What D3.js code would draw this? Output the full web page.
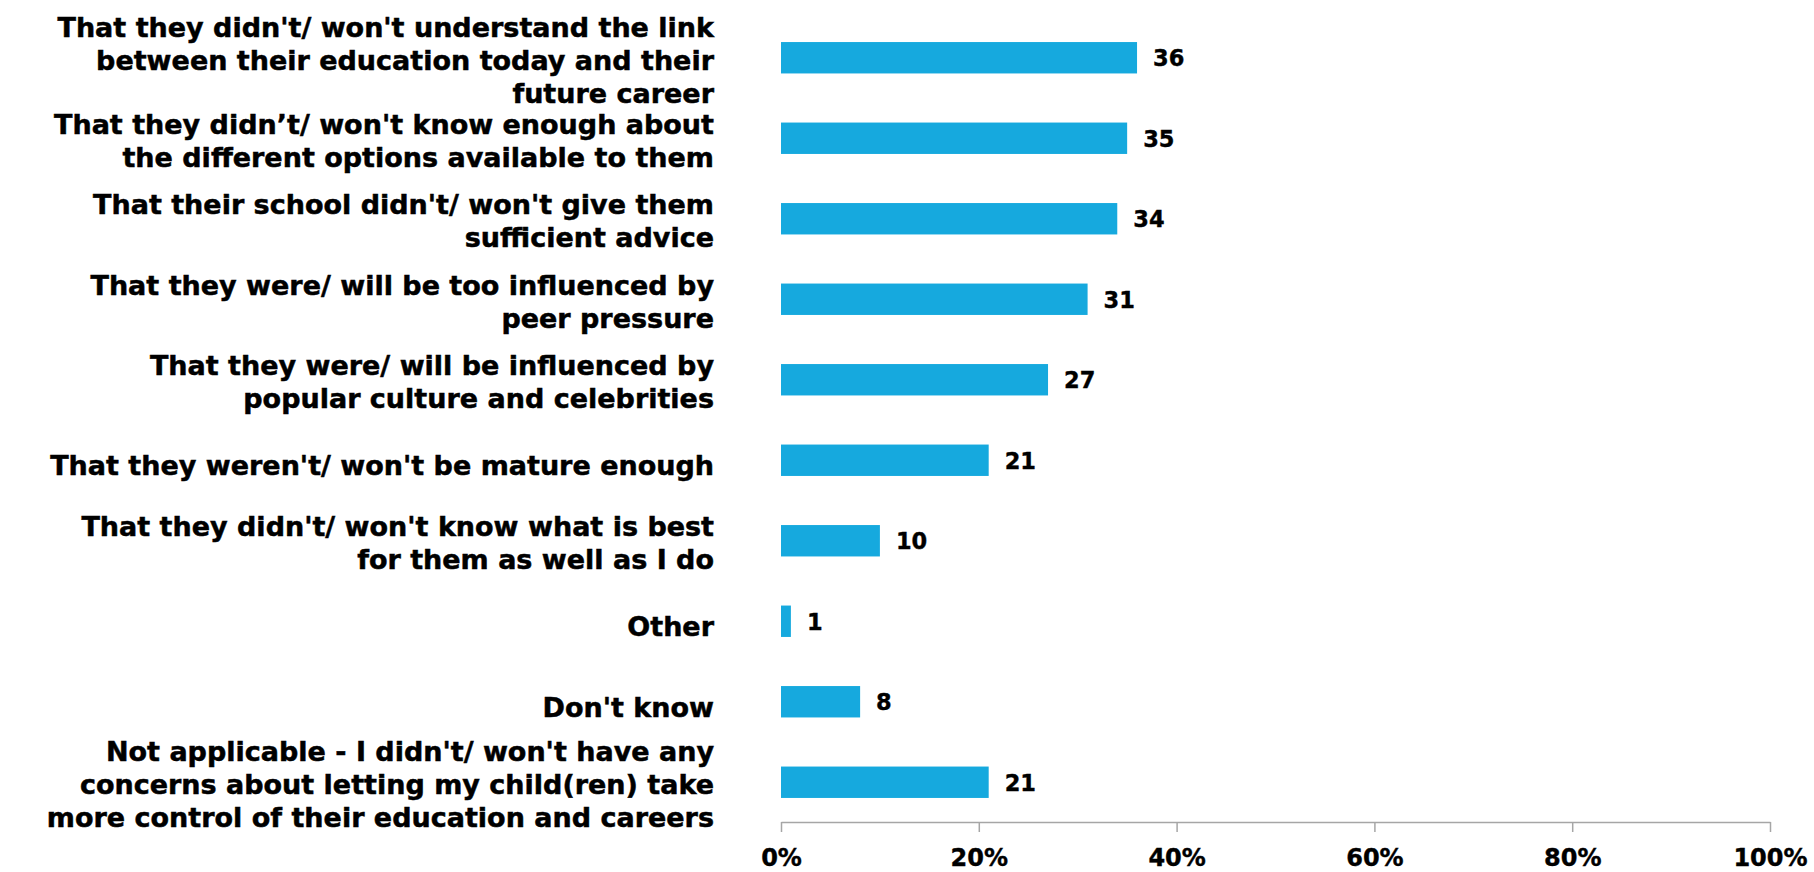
<!DOCTYPE html>
<html>
<head>
<meta charset="utf-8">
<script src="https://cdn.jsdelivr.net/npm/d3@7"></script>
<style>
  html, body { margin: 0; padding: 0; background: #ffffff; }
  svg { display: block; }
</style>
</head>
<body>
<svg id="chart" width="1814" height="872"></svg>
<script>
// ---- data ----
const categories = [
  ["That they didn't/ won't understand the link", "between their education today and their", "future career"],
  ["That they didn\u2019t/ won't know enough about", "the different options available to them"],
  ["That their school didn't/ won't give them", "sufficient advice"],
  ["That they were/ will be too influenced by", "peer pressure"],
  ["That they were/ will be influenced by", "popular culture and celebrities"],
  ["That they weren't/ won't be mature enough"],
  ["That they didn't/ won't know what is best", "for them as well as I do"],
  ["Other"],
  ["Don't know"],
  ["Not applicable - I didn't/ won't have any", "concerns about letting my child(ren) take", "more control of their education and careers"]
];
const values = [36, 35, 34, 31, 27, 21, 10, 1, 8, 21];
const tickValues = [0, 20, 40, 60, 80, 100];
const tickLabels = ["0%", "20%", "40%", "60%", "80%", "100%"];

// ---- layout ----
const svg = d3.select("#chart");
const FONT = "'DejaVu Sans', Verdana, sans-serif";
const barColor = "#16a9de";

const x = d3.scaleLinear().domain([0, 100]).range([781, 1770]);
const y = d3.scaleBand()
  .domain(d3.range(categories.length))
  .range([17.5, 822.5])
  .paddingInner(0.61)
  .paddingOuter(0.305);

// bars
svg.append("g").selectAll("rect")
  .data(values)
  .join("rect")
  .attr("x", x(0))
  .attr("y", (d, i) => y(i))
  .attr("width", d => x(d) - x(0))
  .attr("height", y.bandwidth())
  .attr("fill", barColor);

// value labels
svg.append("g").selectAll("text")
  .data(values)
  .join("text")
  .attr("x", d => x(d) + 16)
  .attr("y", (d, i) => y(i) + y.bandwidth() / 2 + 8.5)
  .attr("font-family", FONT)
  .attr("font-weight", "bold")
  .attr("font-size", 22.5)
  .attr("fill", "#000")
  .attr("stroke", "#000")
  .attr("stroke-width", 0.4)
  .text(d => d);

// category labels
const lineH = 33;
const capH = 27 * 0.729;
const labG = svg.append("g");
categories.forEach((lines, i) => {
  const cy = y(i) + y.bandwidth() / 2 + (lines.length === 1 ? 5 : 2);
  const firstBaseline = cy + capH / 2 - (lines.length - 1) * lineH / 2;
  const t = labG.append("text")
    .attr("text-anchor", "end")
    .attr("font-family", FONT)
    .attr("font-weight", "bold")
    .attr("font-size", 27)
    .attr("fill", "#000")
    .attr("stroke", "#000")
    .attr("stroke-width", 0.5);
  lines.forEach((ln, j) => {
    t.append("tspan")
      .attr("x", 714)
      .attr("y", firstBaseline + j * lineH)
      .text(ln);
  });
});

// x axis
const axis = d3.axisBottom(x)
  .tickValues(tickValues)
  .tickSize(10)
  .tickSizeOuter(0)
  .tickPadding(20)
  .tickFormat((d, i) => tickLabels[i]);

const ax = svg.append("g")
  .attr("transform", "translate(0,822)")
  .call(axis);
ax.select(".domain").attr("stroke", "#a6a6a6").attr("stroke-width", 1.5);
ax.selectAll(".tick line").attr("stroke", "#a6a6a6").attr("stroke-width", 1.5);
ax.selectAll(".tick text")
  .attr("font-family", FONT)
  .attr("font-weight", "bold")
  .attr("font-size", 24)
  .attr("fill", "#000")
  .attr("stroke", "#000")
  .attr("stroke-width", 0.4)
  .attr("dy", null)
  .attr("y", 44);
</script>
</body>
</html>
